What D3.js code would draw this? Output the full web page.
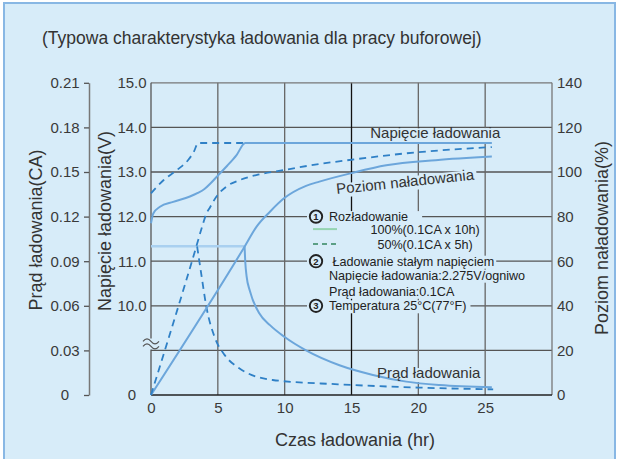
<!DOCTYPE html>
<html>
<head>
<meta charset="utf-8">
<script src="https://cdn.jsdelivr.net/npm/d3@7"></script>
<style>
  body { margin: 0; background: #fff; }
  svg { display: block; font-family: "Liberation Sans", Arial, sans-serif; }
</style>
</head>
<body>
<script>
// tick values
const hourTicks = [0, 5, 10, 15, 20, 25];
const voltTicks = [0, 10, 11, 12, 13, 14, 15];
const currentTicks = [0, 0.03, 0.06, 0.09, 0.12, 0.15, 0.18, 0.21];
const percentTicks = [0, 20, 40, 60, 80, 100, 120, 140];

// [hour, volt]
const voltage100 = [[0, 11.85], [0.17, 12.07], [0.67, 12.22], [1.66, 12.33], [2.91, 12.45], [3.5, 12.53],
  [4.0, 12.62], [4.5, 12.76], [5, 12.92], [5.7, 13.14], [6.4, 13.38], [7.05, 13.65], [25.5, 13.65]];
const voltage50 = [[0, 12.52], [0.45, 12.67], [0.95, 12.82], [1.92, 13.04], [2.78, 13.27], [3.2, 13.45],
  [3.53, 13.65], [7.05, 13.65]];
// [hour, %]
const level100 = [[0, 0], [7.0, 66.5], [7.9, 75.5], [8.9, 82.2], [9.95, 88.2], [11.6, 93.8], [12.6, 95.7],
  [15, 99.5], [17.6, 103], [21.3, 105.3], [25.5, 106.9]];
const level50 = [[0, 0], [3.41, 67], [3.8, 75], [4.16, 81.5], [4.4, 84], [4.9, 89], [5.65, 93.5], [6.64, 96.4],
  [8, 98.8], [9.95, 100.9], [12.6, 103.6], [15, 105.5], [18.8, 108.2], [25.5, 111.2]];
// [hour, CA]
const current100 = [[0, 0.1], [7.0, 0.1], [7.05, 0.09], [7.15, 0.08], [7.4, 0.07], [8.1, 0.055], [8.9, 0.047],
  [10, 0.039], [11.6, 0.030], [14.1, 0.020], [16.6, 0.0135], [19.1, 0.009], [21.6, 0.0067], [25.5, 0.0052]];
const current50 = [[3.45, 0.1], [3.75, 0.082], [4.15, 0.059], [4.8, 0.038], [5.5, 0.027], [6.6, 0.018],
  [9.1, 0.0101], [14, 0.0072], [20, 0.005], [25.6, 0.0038]];

const bg = '#d7ecf9';
const svg = d3.select('body').append('svg').attr('width', 619).attr('height', 459);

svg.append('rect').attr('x', 4).attr('y', 3).attr('width', 611).attr('height', 470)
  .attr('fill', bg).attr('stroke', '#88b7e4').attr('stroke-width', 2);

svg.append('text').attr('x', 42).attr('y', 44).attr('font-size', 17.5).attr('fill', '#333')
  .text('(Typowa charakterystyka ładowania dla pracy buforowej)');

const x = d3.scaleLinear().domain([0, 30]).range([151, 552]);
const yC = d3.scaleLinear().domain([0, 0.21]).range([395, 82.8]);
const yP = d3.scaleLinear().domain([0, 140]).range([395, 82.8]);
const yV = d3.scaleLinear().domain([0, 10, 15]).range([395, yC(0.06), 82.8]);

const x0 = x.range()[0], x1 = x.range()[1], yTop = yC.range()[1], yBot = yC.range()[0];

// grid
const grid = svg.append('g');
grid.selectAll('line.h').data(currentTicks.slice(1, -1)).join('line').attr('class', 'h')
  .attr('x1', x0).attr('x2', x1).attr('y1', d => yC(d)).attr('y2', d => yC(d))
  .attr('stroke', '#555').attr('stroke-width', 1.3);
grid.selectAll('line.v').data(hourTicks.slice(1)).join('line').attr('class', 'v')
  .attr('x1', d => x(d)).attr('x2', d => x(d)).attr('y1', yTop).attr('y2', yBot)
  .attr('stroke', d => d === 15 ? '#111' : '#666').attr('stroke-width', 1.3);
grid.append('line').attr('x1', x0).attr('x2', x1).attr('y1', yTop).attr('y2', yTop)
  .attr('stroke', '#777').attr('stroke-width', 1.3);
grid.append('line').attr('x1', x1).attr('x2', x1).attr('y1', yTop).attr('y2', yBot)
  .attr('stroke', '#777').attr('stroke-width', 1.3);
grid.append('line').attr('x1', x0).attr('x2', x1).attr('y1', yBot).attr('y2', yBot)
  .attr('stroke', '#222').attr('stroke-width', 1.6);

// left frame with axis break
const brk = yC(0.03) - 8;
grid.append('line').attr('x1', x0).attr('x2', x0).attr('y1', yTop).attr('y2', brk - 4)
  .attr('stroke', '#555').attr('stroke-width', 1.3);
grid.append('line').attr('x1', x0).attr('x2', x0).attr('y1', brk + 7).attr('y2', yBot)
  .attr('stroke', '#555').attr('stroke-width', 1.3);
[-2, 3].forEach(function(o) {
  grid.append('path')
    .attr('d', `M${x0 - 8},${brk + o + 1} q4,-5 8,0 t8,0`)
    .attr('fill', 'none').attr('stroke', '#555').attr('stroke-width', 1.2);
});

const bgLayer = svg.append('g');
const curveLayer = svg.append('g');
const textLayer = svg.append('g');

// curves
function drawLine(data, yScale, stroke, width, dash) {
  const line = d3.line().x(d => x(d[0])).y(d => yScale(d[1])).curve(d3.curveMonotoneX);
  curveLayer.append('path').attr('d', line(data)).attr('fill', 'none')
    .attr('stroke', stroke).attr('stroke-width', width)
    .attr('stroke-dasharray', dash || null).attr('stroke-linejoin', 'round');
}
const solid = '#6ca6db', dashed = '#2f80c6';
drawLine(current100.slice(0, 2), yC, '#a9d0f0', 2.5);
drawLine(current100.slice(1), yC, solid, 2);
drawLine(current50, yC, dashed, 1.8, '7,5');
drawLine(level100, yP, solid, 2);
drawLine(level50, yP, dashed, 1.8, '7,5');
drawLine(voltage50, yV, dashed, 1.8, '7,5');
drawLine(voltage100, yV, solid, 2);

// curve labels
function label(txt, px, py, rot) {
  const tr = `translate(${px},${py}) rotate(${rot || 0})`;
  const t = textLayer.append('text').attr('transform', tr)
    .attr('font-size', 15).attr('fill', '#333').text(txt);
  const b = t.node().getBBox();
  bgLayer.append('rect').attr('transform', tr)
    .attr('x', b.x - 2).attr('y', -10).attr('width', b.width + 4).attr('height', 14)
    .attr('fill', bg);
}
label('Napięcie ładowania', x(16.4), yV(13.76));
label('Poziom naładowania', x(13.9), yP(90.1), -6);
label('Prąd ładowania', x(16.9), yC(0.0114));

// legend
const lx = 329, cx = 316;
const rows = [yV(12), yV(11), yV(10)];
const legend = textLayer.append('g').attr('font-size', 12.6).attr('fill', '#222');

function legendText(txt, px, py, anchor) {
  return legend.append('text').attr('x', px).attr('y', py)
    .attr('text-anchor', anchor || 'start').text(txt);
}
function bgFor(node, left, extra) {
  const b = node.node().getBBox();
  bgLayer.append('rect').attr('x', left).attr('y', b.y + 1)
    .attr('width', b.x + b.width + extra - left).attr('height', b.height - 1).attr('fill', bg);
}

const t1 = legendText('Rozładowanie', lx, rows[0] + 4.5);
legendText('100%(0.1CA x 10h)', 425, rows[0] + 17, 'middle');
legendText('50%(0.1CA x 5h)', 425, rows[0] + 32, 'middle');
const t2 = legendText(' Ładowanie stałym napięciem', lx, rows[1] + 4.5).attr('xml:space', 'preserve');
const t3 = legendText('Napięcie ładowania:2.275V/ogniwo', lx, rows[1] + 18.5);
legendText('Prąd ładowania:0.1CA', lx, rows[1] + 35);
const t4 = legendText('Temperatura 25°C(77°F)', lx, rows[2] + 4.5);

bgFor(t1, 307, 14);
bgFor(t2, 307, 2);
bgFor(t3, 307, 2);
bgFor(t4, 307, 4);
bgLayer.append('rect').attr('x', 307).attr('y', rows[0] + 7)
  .attr('width', 175).attr('height', rows[2] - rows[0] - 14).attr('fill', bg);

legend.append('line').attr('x1', 313).attr('x2', 337).attr('y1', rows[0] + 12.5).attr('y2', rows[0] + 12.5)
  .attr('stroke', '#94d4b0').attr('stroke-width', 2);
legend.append('line').attr('x1', 313).attr('x2', 337).attr('y1', rows[0] + 27.5).attr('y2', rows[0] + 27.5)
  .attr('stroke', '#5b9f85').attr('stroke-width', 2).attr('stroke-dasharray', '5,4');

['1', '2', '3'].forEach(function(n, i) {
  legend.append('circle').attr('cx', cx).attr('cy', rows[i]).attr('r', 6.2)
    .attr('fill', bg).attr('stroke', '#222').attr('stroke-width', 1.9);
  legend.append('text').attr('x', cx).attr('y', rows[i] + 3.5).attr('text-anchor', 'middle')
    .attr('font-size', 9.5).attr('font-weight', 'bold').text(n);
});

// axes
function styleAxis(g) {
  g.attr('font-size', 15).attr('font-family', null);
  g.selectAll('text').attr('fill', '#3a3a3a');
}
const axC = svg.append('g').attr('transform', 'translate(89,0)')
  .call(d3.axisLeft(yC).tickValues(currentTicks).tickSize(5).tickSizeOuter(0)
    .tickFormat(d => d === 0 ? '0' : d3.format('.2f')(d)));
styleAxis(axC);
axC.select('.domain').attr('stroke', '#777').attr('stroke-width', 1.5);
axC.selectAll('.tick line').attr('stroke', '#555').attr('stroke-width', 1.3);
axC.selectAll('text').attr('x', -24).attr('text-anchor', 'middle');

const axV = svg.append('g').attr('transform', `translate(${x0},0)`)
  .call(d3.axisLeft(yV).tickValues(voltTicks).tickSize(0)
    .tickFormat(d => d === 0 ? '0' : d.toFixed(1)));
styleAxis(axV);
axV.select('.domain').remove();
axV.selectAll('text').attr('x', -19).attr('text-anchor', 'middle');

const axP = svg.append('g').attr('transform', `translate(${x1},0)`)
  .call(d3.axisRight(yP).tickValues(percentTicks).tickSize(0).tickPadding(5));
styleAxis(axP);
axP.select('.domain').remove();

const axX = svg.append('g').attr('transform', `translate(0,${yBot})`)
  .call(d3.axisBottom(x).tickValues(hourTicks).tickSize(0).tickPadding(7));
styleAxis(axX);
axX.select('.domain').remove();

// axis titles
const titles = svg.append('g').attr('font-size', 18).attr('fill', '#333').attr('text-anchor', 'middle');
titles.append('text').attr('transform', 'translate(42,230) rotate(-90)').text('Prąd ładowania(CA)');
titles.append('text').attr('transform', 'translate(111,221) rotate(-90)').text('Napięcie ładowania(V)');
titles.append('text').attr('transform', 'translate(608,238) rotate(-90)').text('Poziom naładowania(%)');
titles.append('text').attr('x', 355).attr('y', 446).text('Czas ładowania (hr)');
</script>
</body>
</html>
